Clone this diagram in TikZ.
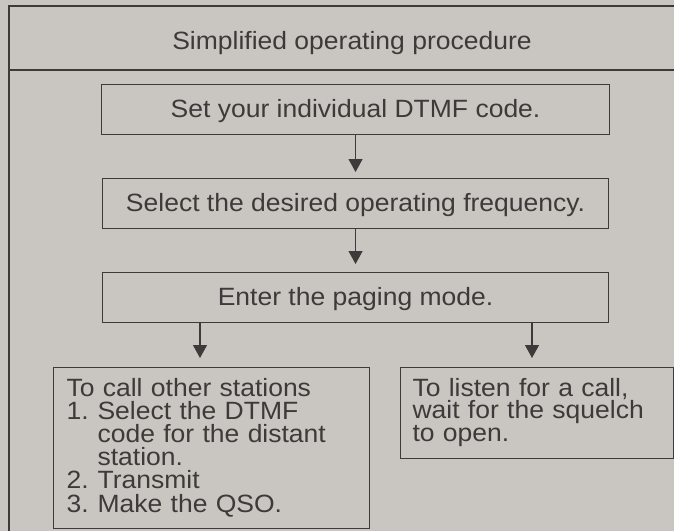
\documentclass[tikz,border=0pt]{standalone}
\usepackage{fontspec}
\setmainfont{Liberation Sans}
\newfontfamily\stretchsans[FakeStretch=1.06]{Liberation Sans}
\usetikzlibrary{arrows.meta,calc}
\definecolor{bg}{RGB}{201,198,193}
\definecolor{ink}{RGB}{62,58,58}
\newcommand\tightlines{\lineskiplimit=-50pt\relax\lineskip=0pt\relax}
\begin{document}
\begin{tikzpicture}[x=1pt,y=1pt,
  frame/.style={draw=ink,line width=1.3pt},
  stepbox/.style={draw=ink,line width=1.1pt,rectangle,anchor=north west,inner sep=0pt,
    align=center,text=ink,font=\stretchsans\fontsize{25}{23}\selectfont,text height=18pt,text depth=2pt},
  listbox/.style={draw=ink,line width=1.1pt,rectangle,anchor=north west,inner ysep=0pt,
    align=left,text=ink},
  arr/.style={draw=ink,line width=1.1pt,-{Triangle[width=14pt,length=13pt]}},
  titletext/.style={text=ink,font=\stretchsans\fontsize{25}{23}\selectfont,anchor=base,inner sep=0pt}
]
\fill[bg] (0,0) rectangle (674,-531);
\useasboundingbox (0,0) rectangle (674,-531);
% frame
\coordinate (ftl) at (9,-6);
\coordinate (ftr) at (674,-6);
\coordinate (fbl) at (9,-531);
\coordinate (fsl) at (9,-70);
\coordinate (fsr) at (674,-70);
\draw[frame] (ftr) -- (ftl) -- (fbl);
\draw[frame] (fsl) -- (fsr);
% title
\node[titletext] (title) at (352,-49) {Simplified operating procedure};
% steps
\node[stepbox,minimum width=508pt,minimum height=50pt] (b1) at (101,-84) {Set your individual DTMF code.};
\node[stepbox,minimum width=506pt,minimum height=50pt] (b2) at (102,-178) {Select the desired operating frequency.};
\node[stepbox,minimum width=506pt,minimum height=50pt] (b3) at (102,-272) {Enter the paging mode.};
% bottom boxes
\node[listbox,inner xsep=13pt,text width=290pt,minimum height=161pt,
  font=\stretchsans\fontsize{25}{23.2}\selectfont,
  text height=18pt,text depth=122pt] (lb) at (53,-367) {\tightlines
To call other stations\\
\makebox[31pt][l]{1.}Select the DTMF\\
\hspace*{31pt}code for the distant\\
\hspace*{31pt}station.\\
\makebox[31pt][l]{2.}Transmit\\
\makebox[31pt][l]{3.}Make the QSO.};
\node[listbox,inner xsep=12pt,text width=249pt,minimum height=91pt,
  font=\stretchsans\fontsize{25}{22.6}\selectfont,
  text height=18pt,text depth=52pt] (rb) at (400,-367) {\tightlines
To listen for a call,\\
wait for the squelch\\
to open.};
% connectors
\draw[arr,shorten >=6pt] (b1) -- (b2);
\draw[arr,shorten >=8pt] (b2) -- (b3);
\coordinate (xl) at (200,0);
\coordinate (xr) at (532,0);
\draw[arr,shorten >=9pt] (xl |- b3.south) -- (xl |- lb.north);
\draw[arr,shorten >=9pt] (xr |- b3.south) -- (xr |- rb.north);
\end{tikzpicture}
\end{document}
